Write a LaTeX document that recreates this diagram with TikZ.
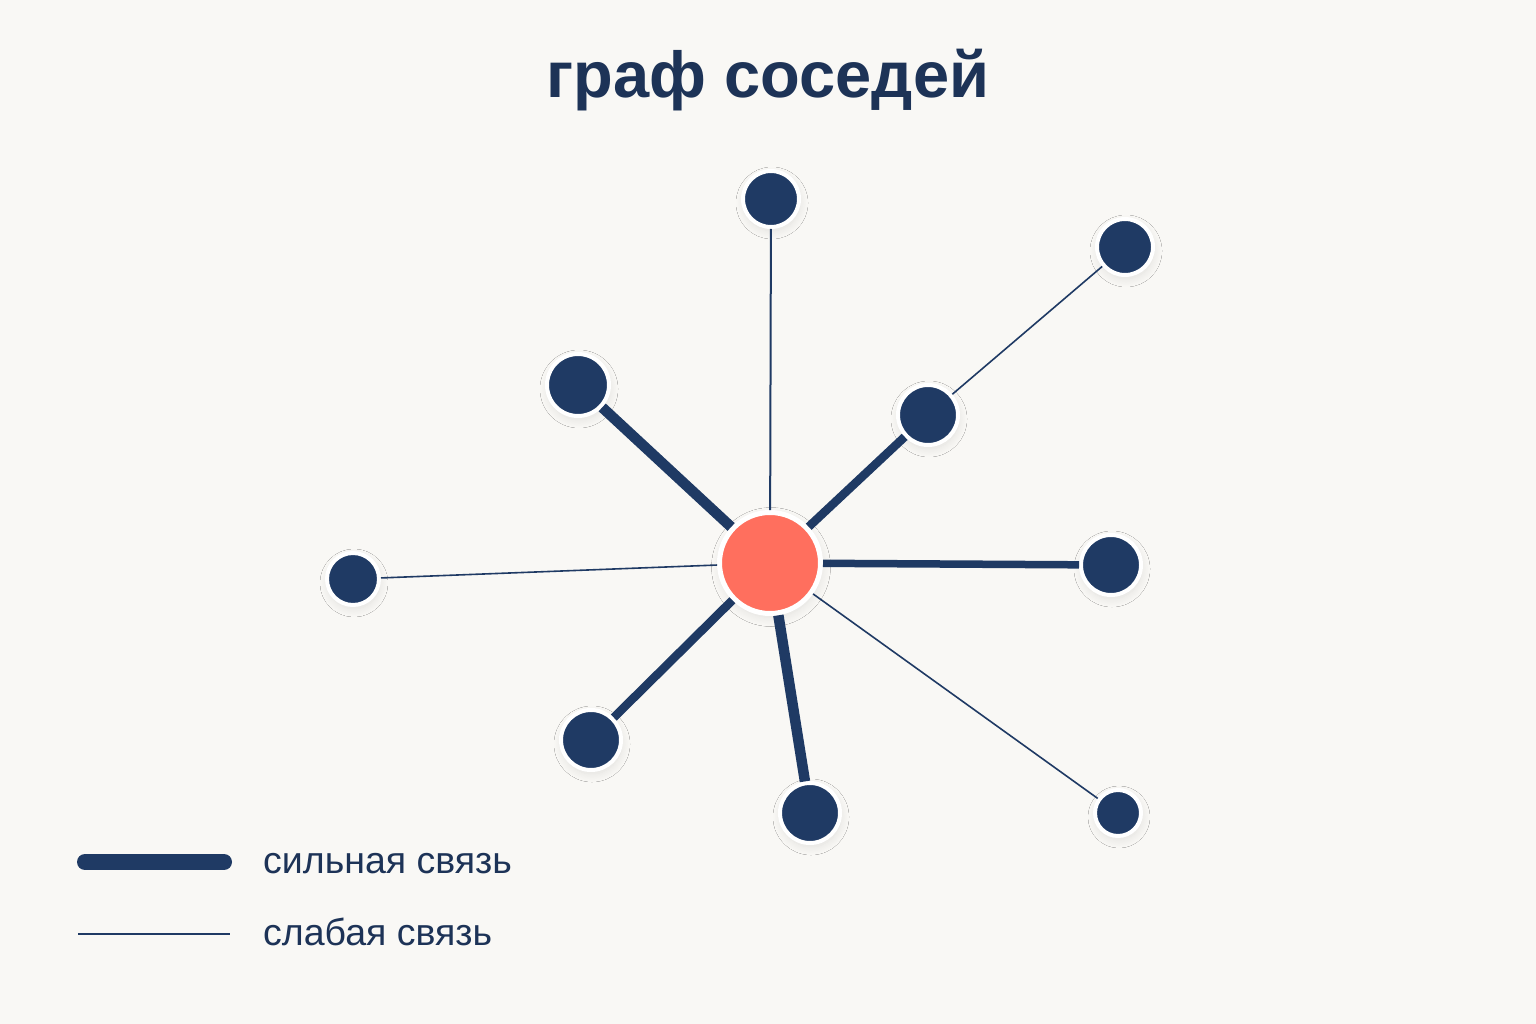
\documentclass[tikz,border=0pt]{standalone}
\usepackage{fontspec}
\setmainfont{Liberation Sans}
\usepackage{xcolor}
\usetikzlibrary{shadows.blur}

\definecolor{navy}{HTML}{1F3A64}
\definecolor{titlenavy}{HTML}{1D3357}
\definecolor{coral}{HTML}{FF6F5E}
\definecolor{paper}{HTML}{F9F8F5}

\tikzset{
  nbr/.style={circle, fill=navy, draw=white, line width=4pt, inner sep=0pt,
    minimum size=#1,
    blur shadow={shadow xshift=1pt, shadow yshift=-4pt, shadow blur radius=8pt, shadow blur steps=12, shadow opacity=10}},
  hub/.style={circle, fill=coral, draw=white, line width=5pt, inner sep=0pt,
    minimum size=101pt,
    blur shadow={shadow xshift=1pt, shadow yshift=-4pt, shadow blur radius=9pt, shadow blur steps=12, shadow opacity=10}},
  strong/.style={draw=navy, line width=#1},
  strong/.default=10.5pt,
  weak/.style={draw=navy, line width=1.6pt},
  legendtext/.style={anchor=base west, text=titlenavy, font=\fontsize{37.5}{42}\selectfont, inner sep=0pt}
}

\begin{document}
\begin{tikzpicture}[x=1pt,y=-1pt]
  \fill[paper] (0,0) rectangle (1536,1024);

  \node[font=\fontsize{65}{76}\selectfont\bfseries, text=titlenavy, anchor=base, inner sep=0pt] (title) at (768,98) {граф соседей};

  % neighbours
  \node[hub] (c) at (770,563) {};
  \node[nbr=56pt] (n1) at (771,199) {};
  \node[nbr=56pt] (n2) at (1125,247) {};
  \node[nbr=62pt] (n3) at (578,385) {};
  \node[nbr=60pt] (n4) at (928,415) {};
  \node[nbr=52pt] (n5) at (353,579) {};
  \node[nbr=60pt] (n6) at (1111,565) {};
  \node[nbr=60pt] (n7) at (591,740) {};
  \node[nbr=60pt] (n8) at (810,813) {};
  \node[nbr=46pt] (n9) at (1118,813) {};

  % links
  \draw[weak, line width=2pt] (c) -- (n1);
  \draw[strong] (c) -- (n3);
  \draw[strong=8.5pt] (c) -- (n4);
  \draw[weak] (n4) -- (n2);
  \draw[weak] (c) -- (n5);
  \draw[strong=7.5pt] (c) -- (n6);
  \draw[strong=8.5pt] (c) -- (n7);
  \draw[strong] (c) -- (n8);
  \draw[weak] (c) -- (n9);

  % legend
  \coordinate (s1) at (85,862);
  \coordinate (s2) at (224,862);
  \coordinate (w1) at (78,934);
  \coordinate (w2) at (230,934);
  \draw[strong=16pt, line cap=round] (s1) -- (s2);
  \draw[weak, line width=2pt] (w1) -- (w2);
  \node[legendtext] (ls) at (263,873) {сильная связь};
  \node[legendtext] (lw) at (263,945) {слабая связь};
\end{tikzpicture}
\end{document}
